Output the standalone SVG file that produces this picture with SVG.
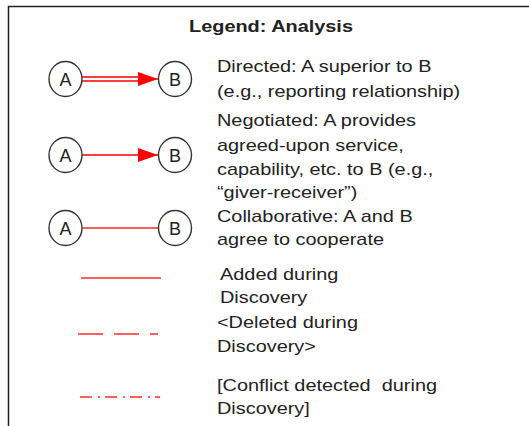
<svg xmlns="http://www.w3.org/2000/svg" width="529" height="426" viewBox="0 0 529 426">
<style>
.t{font-family:"Liberation Sans",Arial,sans-serif;font-size:17px;fill:#222}
.title{font-family:"Liberation Sans",Arial,sans-serif;font-size:17px;font-weight:bold;fill:#222}
.n{fill:#fff;stroke:#333;stroke-width:1.4}
.nl{font-family:"Liberation Sans",Arial,sans-serif;font-size:18px;fill:#222;text-anchor:middle}
.red{stroke:#ff0000;stroke-width:1.3;fill:none}
.pink{stroke:#ff6060;stroke-width:2;fill:none}
</style>
<defs>
<marker id="arr" viewBox="0 0 20 14" refX="20" refY="7" markerWidth="20" markerHeight="14" markerUnits="userSpaceOnUse" orient="auto">
<path d="M0,0 L20,7 L0,14 Z" fill="#ff0000"/>
</marker>
</defs>
<rect x="8.5" y="6.5" width="540" height="440" fill="#fff" stroke="#222" stroke-width="1.5"/>
<g transform="matrix(1.17,0,0,1,271,0)"><text class="title" x="0" y="32" text-anchor="middle">Legend: Analysis</text></g>

<g id="connectors">
<path class="red" d="M82,77 H145 M82,81 H145"/>
<path class="red" d="M140,79 H158" marker-end="url(#arr)"/>
<path class="red" d="M82,155 H158" marker-end="url(#arr)"/>
<path class="pink" d="M82,228 H158"/>
<path class="pink" d="M81,278 H161"/>
<path class="pink" d="M78,334 H158" stroke-dasharray="25 11"/>
<path class="pink" d="M80,397 H160" stroke-dasharray="12 6 2 5"/>
</g>

<g id="nodeA1"><ellipse class="n" cx="65.5" cy="79" rx="16.5" ry="17.5"/><text class="nl" x="65.5" y="85.5">A</text></g>
<g id="nodeB1"><ellipse class="n" cx="175" cy="79" rx="16.5" ry="17.5"/><text class="nl" x="175" y="85.5">B</text></g>
<g id="nodeA2"><ellipse class="n" cx="65.5" cy="155" rx="16.5" ry="17.5"/><text class="nl" x="65.5" y="161.5">A</text></g>
<g id="nodeB2"><ellipse class="n" cx="175" cy="155" rx="16.5" ry="17.5"/><text class="nl" x="175" y="161.5">B</text></g>
<g id="nodeA3"><ellipse class="n" cx="65.5" cy="228" rx="16.5" ry="17.5"/><text class="nl" x="65.5" y="234.5">A</text></g>
<g id="nodeB3"><ellipse class="n" cx="175" cy="228" rx="16.5" ry="17.5"/><text class="nl" x="175" y="234.5">B</text></g>

<g id="labels">
<g transform="matrix(1.17,0,0,1,217,0)">
<text class="t" x="0" y="72">Directed: A superior to B</text>
<text class="t" x="0" y="97">(e.g., reporting relationship)</text>
<text class="t" x="0" y="126">Negotiated: A provides</text>
<text class="t" x="0" y="151">agreed-upon service,</text>
<text class="t" x="0" y="175">capability, etc. to B (e.g.,</text>
<text class="t" x="0" y="198">“giver-receiver”)</text>
<text class="t" x="0" y="222">Collaborative: A and B</text>
<text class="t" x="0" y="245">agree to cooperate</text>
<text class="t" x="0" y="328">&lt;Deleted during</text>
<text class="t" x="0" y="352">Discovery&gt;</text>
<text class="t" x="0" y="391" xml:space="preserve">[Conflict detected  during</text>
<text class="t" x="0" y="414">Discovery]</text>
</g>
<g transform="matrix(1.17,0,0,1,220,0)">
<text class="t" x="0" y="280">Added during</text>
<text class="t" x="0" y="303">Discovery</text>
</g>
</g>
</svg>
